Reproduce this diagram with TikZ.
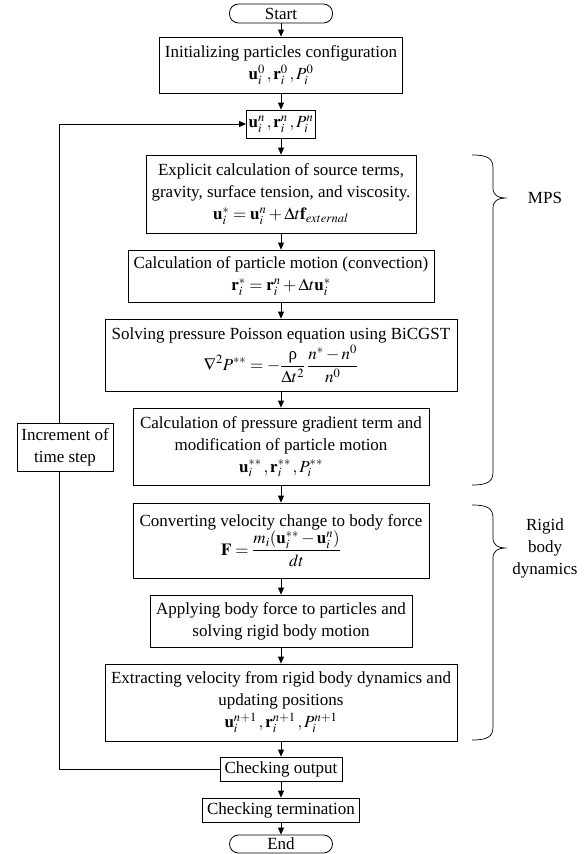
\documentclass[tikz,border=0pt]{standalone}
\usepackage{mathptmx}
\usepackage{fontspec}
\setmainfont{Liberation Serif}
\usetikzlibrary{arrows.meta}
\newcommand\drawcurly[3]{% top, cusp, bottom
  \draw[line width=0.7pt] (472,#1) .. controls (487,#1) and (493,#1+3) .. (493,#1+13)
    -- (493,#2-10) .. controls (493,#2-3) and (498,#2) .. (505,#2)
    .. controls (498,#2) and (493,#2+3) .. (493,#2+10)
    -- (493,#3-13) .. controls (493,#3-3) and (487,#3) .. (472,#3);}
\begin{document}
\begin{tikzpicture}[x=1pt,y=-1pt,
  box/.style={draw, line width=0.8pt, align=center, inner sep=0pt, font=\fontsize{17}{22}\selectfont},
  term/.style={box, rounded corners=9pt},
  arr/.style={-{Triangle[length=7pt,width=6pt]}, line width=0.8pt},
  lbl/.style={align=center, font=\fontsize{17}{22}\selectfont}]
\useasboundingbox (0,0) rectangle (586,854);

\node[term, minimum width=103pt, minimum height=19pt] (start) at (281,13.5) {Start};
\node[box, minimum width=243pt, minimum height=56pt] (init) at (281,65)
  {Initializing particles configuration\\$\mathbf{u}_i^0\,,\mathbf{r}_i^0\,,P_i^0$};
\node[box, minimum width=69pt, minimum height=28pt] (un) at (281,124)
  {$\mathbf{u}_i^n\,,\mathbf{r}_i^n\,,P_i^n$};
\node[box, minimum width=270pt, minimum height=78pt] (expl) at (281,194)
  {Explicit calculation of source terms,\\gravity, surface tension, and viscosity.\\$\mathbf{u}_i^*=\mathbf{u}_i^n+\Delta t\mathbf{f}_{external}$};
\node[box, minimum width=306pt, minimum height=52pt] (conv) at (281,276)
  {Calculation of particle motion (convection)\\$\mathbf{r}_i^*=\mathbf{r}_i^n+\Delta t\mathbf{u}_i^*$};
\node[box, minimum width=352pt, minimum height=72pt] (pois) at (281,355)
  {Solving pressure Poisson equation using BiCGST\\[1pt]$\displaystyle\nabla^2P^{**}=-\frac{\textrm{ρ}}{\Delta t^2}\,\frac{n^*-n^0}{n^0}$};
\node[box, minimum width=296pt, minimum height=77pt] (pgrad) at (281,446.5)
  {Calculation of pressure gradient term and\\modification of particle motion\\$\mathbf{u}_i^{**}\,,\mathbf{r}_i^{**}\,,P_i^{**}$};
\node[box, minimum width=296pt, minimum height=75pt] (body) at (281,540.5)
  {Converting velocity change to body force\\$\displaystyle\mathbf{F}=\frac{m_i(\mathbf{u}_i^{**}-\mathbf{u}_i^n)}{dt}$};
\node[box, minimum width=262pt, minimum height=52pt] (apply) at (281,621)
  {Applying body force to particles and\\solving rigid body motion};
\node[box, minimum width=352pt, minimum height=77pt] (extr) at (281,702.5)
  {Extracting velocity from rigid body dynamics and\\updating positions\\$\mathbf{u}_i^{n+1}\,,\mathbf{r}_i^{n+1}\,,P_i^{n+1}$};
\node[box, minimum width=122pt, minimum height=24pt] (out) at (281,769) {Checking output};
\node[box, minimum width=157pt, minimum height=24pt] (term) at (281,810) {Checking termination};
\node[term, minimum width=103pt, minimum height=18pt] (end) at (281,844) {End};

\foreach \a/\b in {start/init, init/un, un/expl, expl/conv, conv/pois, pois/pgrad, pgrad/body, body/apply, apply/extr, extr/out, out/term, term/end}
  \draw[arr] (\a) -- (\b);

\coordinate (lb) at (59,769);
\coordinate (lt) at (59,124);
\draw[arr] (out.west) -- (lb) -- (lt) -- (un.west);
\node[box, fill=white, minimum width=96pt, minimum height=48pt] (inc) at (65,447) {Increment of\\time step};

\drawcurly{155}{198}{485}
\drawcurly{505}{548}{740}
\node[lbl] (mps) at (545,198) {MPS};
\node[lbl] (rbd) at (545,548) {Rigid\\body\\dynamics};
\end{tikzpicture}
\end{document}
